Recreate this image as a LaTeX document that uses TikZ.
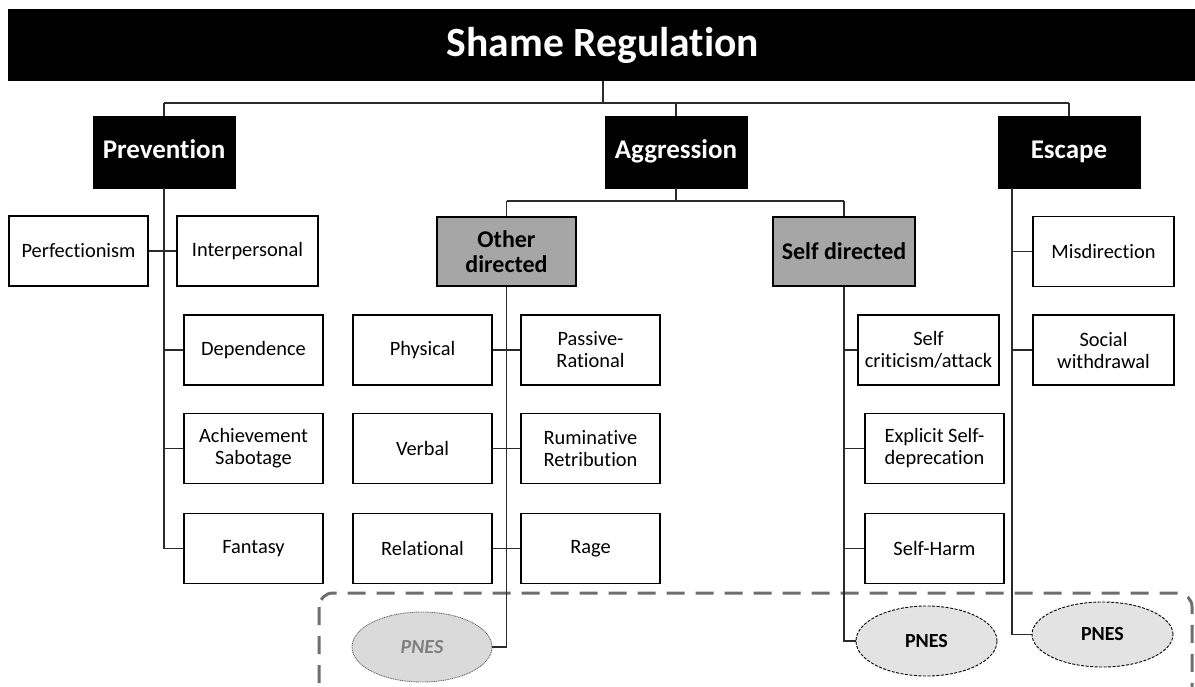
\documentclass[tikz,border=0pt]{standalone}
\usepackage{fontspec}
\setmainfont{Carlito}[RawFeature={-liga;-dlig;-clig}]
\usetikzlibrary{shapes.geometric}
\definecolor{subgray}{HTML}{A6A6A6}
\definecolor{pnesfill}{HTML}{E3E3E3}
\definecolor{pnesfaint}{HTML}{DADADA}
\definecolor{linkcol}{HTML}{2A2A2A}
\definecolor{dashcol}{HTML}{6E6E6E}
\begin{document}
\begin{tikzpicture}[x=1pt,y=-1pt,
  leaf/.style={draw=black,line width=1.5pt,fill=white,minimum width=139pt,minimum height=70pt,align=center,inner sep=2pt,font=\fontsize{20.4}{22}\selectfont},
  head/.style={draw=black,fill=black,text=white,minimum width=142pt,minimum height=72pt,inner sep=0pt,text height=19pt,text depth=6pt,font=\bfseries\fontsize{27}{30}\selectfont},
  sub/.style={draw=black,line width=1.5pt,fill=subgray,minimum width=139pt,minimum height=69pt,align=center,inner sep=2pt,font=\bfseries\fontsize{24}{25}\selectfont},
  pnes/.style={ellipse,draw=black,line width=0.9pt,dash pattern=on 3pt off 1.5pt,fill=pnesfill,minimum width=141pt,minimum height=70pt,inner sep=0pt,font=\bfseries\fontsize{20}{22}\selectfont},
  link/.style={draw=linkcol,line width=1.6pt},
  group/.style={draw=dashcol,line width=3pt,dash pattern=on 18pt off 11pt,rounded corners=14pt},
]
\useasboundingbox (0,0) rectangle (1195,687);
\clip (0,0) rectangle (1195,687);

% dashed group
\draw[group] (319,593) rectangle (1192,702);

% title
\node[fill=black,text=white,minimum width=1190pt,minimum height=72pt,inner sep=0pt,font=\bfseries\fontsize{41.6}{44}\selectfont] (title) at (603,45) {Shame Regulation};

% heads
\node[head] (prev) at (164,152) {Prevention};
\node[head] (aggr) at (676,152) {Aggression};
\node[head] (esc) at (1069,152) {Escape};

% prevention leaves
\node[leaf] (perf) at (78.5,251) {Perfectionism};
\node[leaf,minimum width=141pt] (inter) at (247.5,251) {Interpersonal};
\node[leaf] (dep) at (253.5,350) {Dependence};
\node[leaf] (ach) at (253.5,448.5) {Achievement\\Sabotage};
\node[leaf] (fan) at (253.5,548.5) {Fantasy};

% aggression sub-groups
\node[sub] (other) at (506.5,251.5) {Other\\directed};
\node[sub,minimum width=142pt] (self) at (844,251.5) {Self directed};

\node[leaf] (phys) at (422.5,350) {Physical};
\node[leaf] (pass) at (590.5,350) {Passive-\\Rational};
\node[leaf] (verb) at (422.5,448.5) {Verbal};
\node[leaf] (rum) at (590.5,448.5) {Ruminative\\Retribution};
\node[leaf] (rel) at (422.5,548.5) {Relational};
\node[leaf] (rage) at (590.5,548.5) {Rage};

\node[leaf,minimum width=141pt] (scrit) at (928.5,350) {Self\\criticism/attack};
\node[leaf] (expl) at (934.5,448.5) {Explicit Self-\\deprecation};
\node[leaf] (sharm) at (934.5,548.5) {Self-Harm};

% escape leaves
\node[leaf,minimum width=141pt] (mis) at (1103.5,251.5) {Misdirection};
\node[leaf,minimum width=141pt] (soc) at (1103.5,350) {Social\\withdrawal};

% PNES
\node[pnes,draw=gray!80!black,dash pattern=on 1pt off 0.8pt,fill=pnesfaint,text=gray,font=\bfseries\itshape\fontsize{20}{22}\selectfont,minimum width=140pt] (p1) at (422,647) {PNES};
\node[pnes] (p2) at (926.5,641) {PNES};
\node[pnes,minimum height=65pt] (p3) at (1102.5,634.5) {PNES};

% connectors
\coordinate (hbar) at (0,103);
\draw[link] (title.south) -- (title.south |- hbar);
\draw[link] (prev.north |- hbar) -- (esc.north |- hbar);
\draw[link] (prev.north |- hbar) -- (prev.north);
\draw[link] (aggr.north |- hbar) -- (aggr.north);
\draw[link] (esc.north |- hbar) -- (esc.north);

% prevention
\draw[link] (prev.south) -- (prev.south |- fan.west) -- (fan.west);
\draw[link] (perf.east) -- (inter.west);
\draw[link] (prev.south |- dep.west) -- (dep.west);
\draw[link] (prev.south |- ach.west) -- (ach.west);

% aggression
\coordinate (abar) at (0,201);
\draw[link] (aggr.south) -- (aggr.south |- abar);
\draw[link] (other.north |- abar) -- (self.north |- abar);
\draw[link] (other.north |- abar) -- (other.north);
\draw[link] (self.north |- abar) -- (self.north);

\draw[link] (other.south) |- (p1.east);
\draw[link] (phys.east) -- (pass.west);
\draw[link] (verb.east) -- (rum.west);
\draw[link] (rel.east) -- (rage.west);

\draw[link] (self.south) |- (p2.west);
\draw[link] (self.south |- scrit.west) -- (scrit.west);
\draw[link] (self.south |- expl.west) -- (expl.west);
\draw[link] (self.south |- sharm.west) -- (sharm.west);

% escape
\coordinate (escd) at (1012,188);
\draw[link] (escd) |- (p3.west);
\draw[link] (escd |- mis.west) -- (mis.west);
\draw[link] (escd |- soc.west) -- (soc.west);
\end{tikzpicture}
\end{document}
